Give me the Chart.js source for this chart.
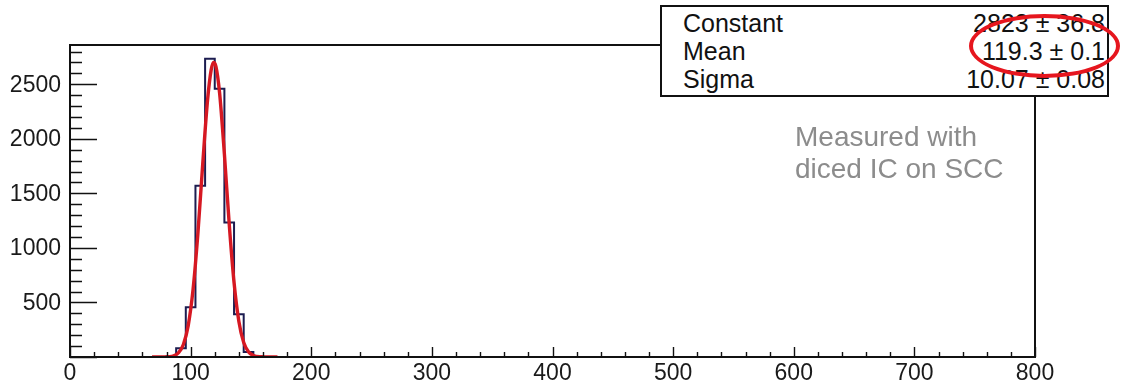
<!DOCTYPE html>
<html>
<head>
<meta charset="utf-8">
<script src="https://cdn.jsdelivr.net/npm/chart.js@4.4.1/dist/chart.umd.min.js"></script>
<style>
  body { margin: 0; background: #fff; }
  #wrap { position: relative; width: 1124px; height: 386px; font-family: "Liberation Sans", Arial, sans-serif; }
  #stats { position: absolute; left: 660px; top: 5px; width: 449px; height: 92px; box-sizing: border-box;
           border: 2px solid #111; background: #fff; padding: 2px 2px 0 21px; font-size: 25px; line-height: 28px; color: #111; }
  #stats .row { display: flex; justify-content: space-between; }
  #note { position: absolute; left: 795px; top: 121px; font-size: 28px; line-height: 32px; color: #8c8c8c; }
  #ring { position: absolute; left: 969px; top: 14px; width: 151px; height: 64px; box-sizing: border-box;
          border: 4px solid rgb(230,22,30); border-radius: 50%; }
</style>
</head>
<body>
<div id="wrap">
  <canvas id="myChart" width="1124" height="386"></canvas>
  <div id="stats">
    <div class="row"><span>Constant</span><span>2823 ± 36.8</span></div>
    <div class="row"><span>Mean</span><span>119.3 ± 0.1</span></div>
    <div class="row"><span>Sigma</span><span>10.07 ± 0.08</span></div>
  </div>
  <div id="note">Measured with<br>diced IC on SCC</div>
  <div id="ring"></div>
</div>
<script>
// histogram: lower bin edges (width 8) and counts
const binEdges = [72, 80, 88, 96, 104, 112, 120, 128, 136, 144, 152, 160];
const counts   = [0, 8, 80, 457, 1570, 2733, 2460, 1234, 393, 45, 6, 0];

// red gaussian fit curve
const fitX = [68, 76, 82, 86, 90, 94, 98, 102, 106, 110, 114, 117, 119, 121, 124, 128, 132, 136, 140, 144, 148, 152, 158, 166, 172];
const fitY = [0, 1, 3, 11, 39, 115, 288, 617, 1129, 1763, 2351, 2630, 2700, 2662, 2422, 1859, 1219, 683, 326, 133, 47, 14, 2, 0, 0];

// y tick labels (0 is not labelled on this axis)
const yLabels = [500, 1000, 1500, 2000, 2500];

const xMin = 0, xMax = 800, xMajor = 100, xMinor = 20;
const yMin = 0, yMax = 2860, yMajor = 500, yMinor = 100;

var histData = [];
for (let i = 0; i < binEdges.length; i++) {
  histData.push({ x: binEdges[i], y: counts[i] });
}
var fitData = fitX.map((x, i) => ({ x: x, y: fitY[i] }));

// ROOT style frame with inward ticks, plus y labels
const frameTicks = {
  id: 'frameTicks',
  afterDraw(chart) {
    const c = chart.ctx, a = chart.chartArea;
    const xs = chart.scales.x, ys = chart.scales.y;
    c.save();
    c.strokeStyle = '#111';
    c.lineWidth = 1.4;
    c.beginPath();
    for (let v = xMin; v <= xMax; v += xMinor) {
      const px = Math.round(xs.getPixelForValue(v)) + 0.5;
      const len = v % xMajor === 0 ? 10 : 5;
      c.moveTo(px, a.bottom);
      c.lineTo(px, a.bottom - len);
    }
    for (let v = yMin; v <= yMax; v += yMinor) {
      const py = Math.round(ys.getPixelForValue(v)) + 0.5;
      const len = v % yMajor === 0 ? 27 : 12;
      c.moveTo(a.left, py);
      c.lineTo(a.left + len, py);
    }
    c.stroke();
    c.lineWidth = 2;
    c.strokeRect(a.left, a.top, a.right - a.left, a.bottom - a.top);

    c.fillStyle = '#1a1a1a';
    c.font = '23px "Liberation Sans", Arial, sans-serif';
    c.textAlign = 'right';
    c.textBaseline = 'middle';
    yLabels.forEach((v) => {
      c.fillText(String(v), a.left - 9, ys.getPixelForValue(v) + 1);
    });
    c.restore();
  }
};

const ctx = document.getElementById('myChart');
var chart = new Chart(ctx, {
  type: 'line',
  data: {
    datasets: [
      {
        label: 'fit',
        data: fitData,
        borderColor: 'rgb(214,24,34)',
        borderWidth: 3.4,
        pointRadius: 0,
        tension: 0.4,
        cubicInterpolationMode: 'monotone',
        fill: false,
        order: 0
      },
      {
        label: 'hist',
        data: histData,
        borderColor: '#1c1c50',
        borderWidth: 2,
        pointRadius: 0,
        stepped: 'before',
        fill: false,
        order: 1
      }
    ]
  },
  options: {
    responsive: false,
    animation: false,
    devicePixelRatio: 1,
    layout: { padding: { left: 0, top: 45, right: 89, bottom: 0 } },
    plugins: { legend: { display: false }, tooltip: { enabled: false } },
    scales: {
      x: {
        type: 'linear',
        min: xMin,
        max: xMax,
        grid: { display: false, drawTicks: false },
        border: { display: false },
        ticks: {
          stepSize: xMajor,
          autoSkip: false,
          maxRotation: 0,
          padding: 3,
          color: '#1a1a1a',
          font: { family: '"Liberation Sans", Arial, sans-serif', size: 23 }
        },
        afterFit: (s) => { s.height = 29; }
      },
      y: {
        type: 'linear',
        min: yMin,
        max: yMax,
        grid: { display: false, drawTicks: false },
        border: { display: false },
        ticks: { display: false, stepSize: yMajor },
        afterFit: (s) => { s.width = 70; }
      }
    }
  },
  plugins: [frameTicks]
});
</script>
</body>
</html>
